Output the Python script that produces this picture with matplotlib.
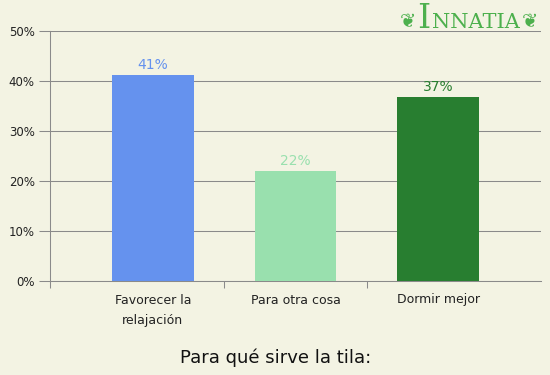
import numpy as np
import matplotlib
matplotlib.use('agg')
import matplotlib.pyplot as plt
from matplotlib.ticker import FixedLocator

categories = ["Favorecer la\nrelajación", "Para otra cosa", "Dormir mejor"]
values = [41.3, 22.1, 36.9]
labels = ["41%", "22%", "37%"]
colors = ["#6592EE", "#99E0AE", "#287E30"]
yticks = [0, 10, 20, 30, 40, 50]
title = "Para qué sirve la tila:"

bg = "#F3F3E3"
grey = "#8A8A8A"
fig = plt.figure(figsize=(5.5, 3.75), dpi=100, facecolor=bg)
ax = fig.add_axes([50/550, 1 - 281/375, 491/550, 250/375])
ax.set_facecolor(bg)

x = np.arange(len(categories))
ax.bar(x, values, width=0.573, color=colors, zorder=3)
for xi, v, lab, c in zip(x, values, labels, colors):
    ax.text(xi, v + 0.5, lab, ha='center', va='bottom', color=c, fontsize=10, zorder=4)

ax.set_xlim(-0.72, 2.72)
ax.set_ylim(0, 50)
ax.set_yticks(yticks)
ax.set_yticklabels([f"{t}%" for t in yticks], fontsize=8.5, color="#222222")
ax.yaxis.grid(True, color=grey, linewidth=0.75, zorder=1)
ax.tick_params(axis='y', length=8, width=0.75, color=grey, pad=3)

ax.set_xticks(x)
ax.set_xticklabels(categories, fontsize=9, color="#222222", linespacing=1.75)
ax.tick_params(axis='x', which='major', length=0, pad=9)
ax.xaxis.set_minor_locator(FixedLocator([-0.72, 0.5, 1.5]))
ax.tick_params(axis='x', which='minor', length=5, width=0.75, color=grey)

for s in ['top', 'right']:
    ax.spines[s].set_visible(False)
for s in ['left', 'bottom']:
    ax.spines[s].set_color(grey)
    ax.spines[s].set_linewidth(0.75)

fig.text(276/550, 1 - 358/375, title, ha='center', va='center', fontsize=13, color="#111111")

# logo
green = "#4DB04D"
fig.text(417/550, 1 - 19/375, "I", fontsize=24, color=green, family="DejaVu Serif", ha='left', va='center')
fig.text(432/550, 1 - 22/375, "NNATIA", fontsize=15, color=green, family="DejaVu Serif", ha='left', va='center')
fig.text(408/550, 1 - 22/375, "❦", fontsize=14, color=green, ha='center', va='center')
fig.text(530/550, 1 - 22/375, "❦", fontsize=14, color=green, ha='center', va='center')

fig.savefig("out.png", dpi=100, facecolor=bg)
